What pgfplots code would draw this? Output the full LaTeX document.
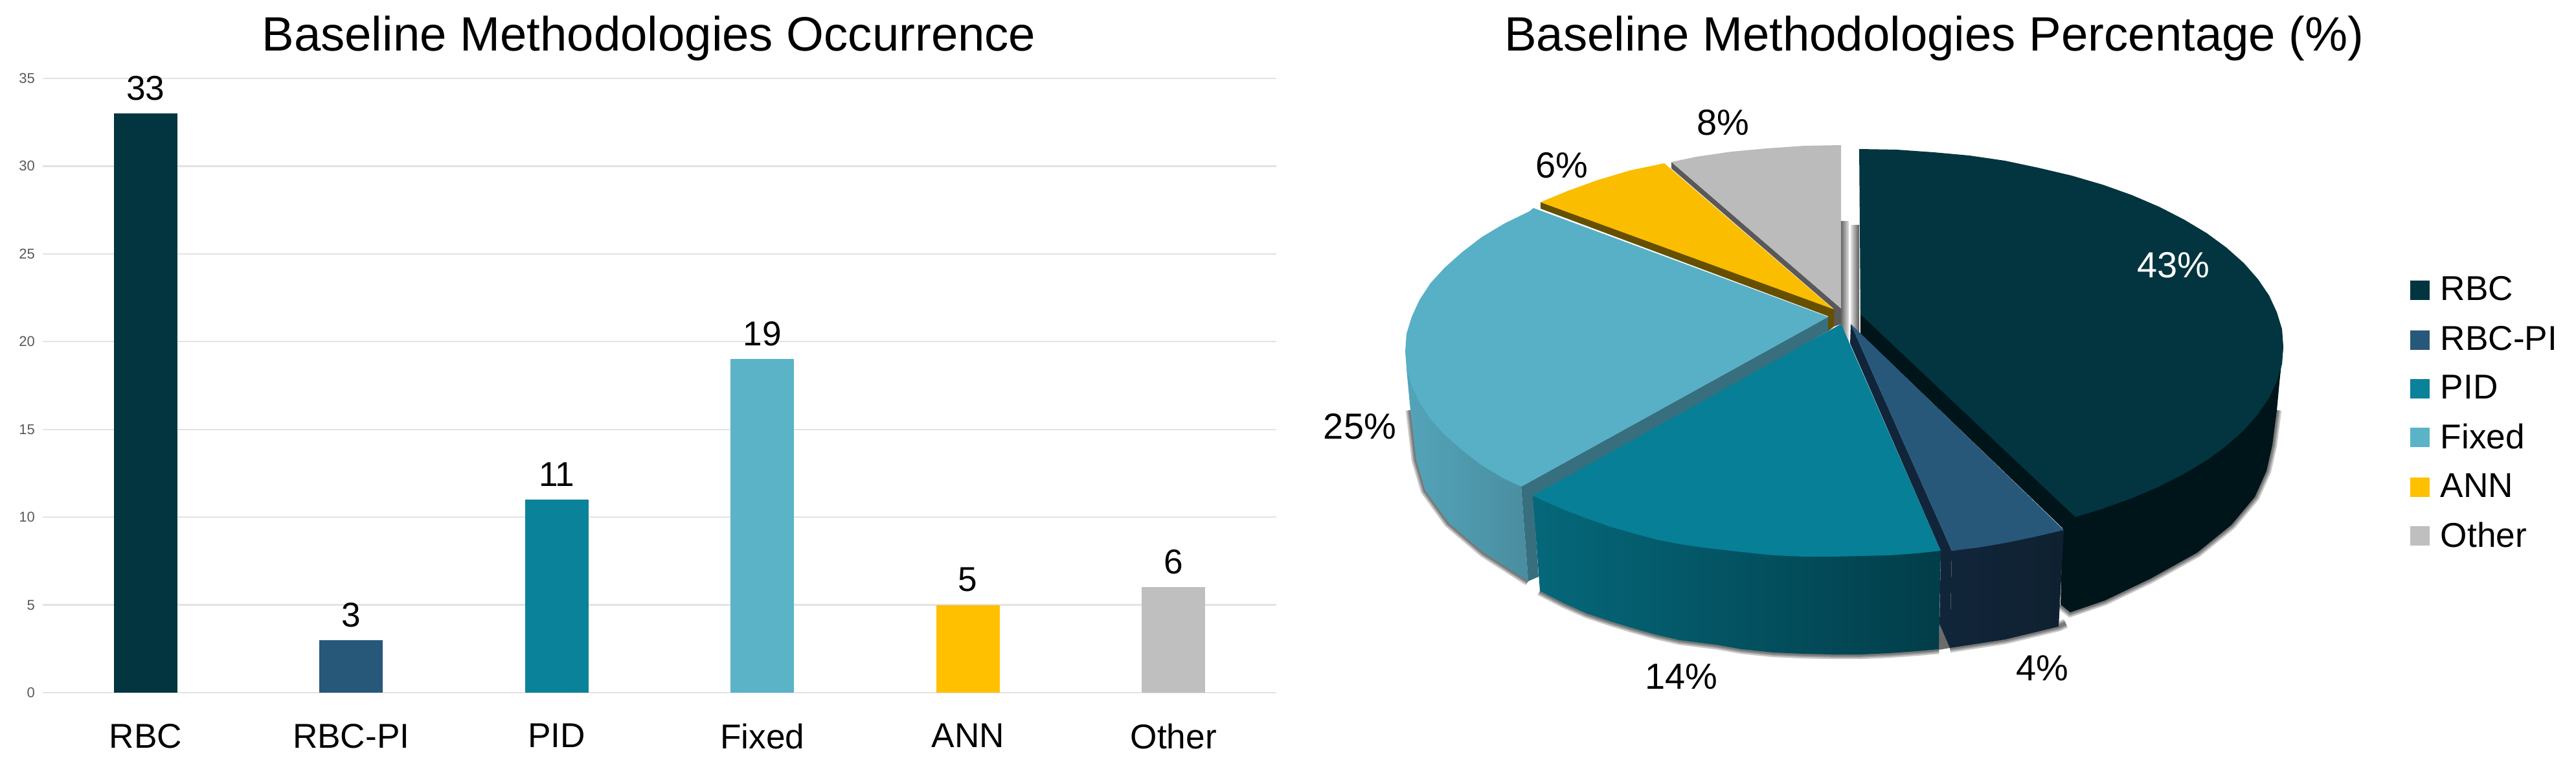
\documentclass[border=0pt]{standalone}
\usepackage{fontspec}
\setmainfont{Liberation Sans}
\usepackage{pgfplots}
\pgfplotsset{compat=1.18}
\usepackage{pgfplotstable}

% series colours
\definecolor{cRBC}{HTML}{02353F}
\definecolor{cRBCside}{HTML}{00151A}
\definecolor{cPI}{HTML}{27587A}
\definecolor{cPIside}{HTML}{11253A}
\definecolor{cPIsideR}{HTML}{0F2130}
\definecolor{cPID}{HTML}{067F97}
\definecolor{cPIDbar}{HTML}{0A8299}
\definecolor{cPIDa}{HTML}{05687A}
\definecolor{cPIDb}{HTML}{044F5C}
\definecolor{cPIDc}{HTML}{023D49}
\definecolor{cFix}{HTML}{57B0C5}
\definecolor{cFixbar}{HTML}{5AB3C7}
\definecolor{cFixcut}{HTML}{386F7E}
\definecolor{cFixa}{HTML}{53A4B9}
\definecolor{cFixb}{HTML}{4A8DA0}
\definecolor{cANN}{HTML}{FBBD00}
\definecolor{cANNbar}{HTML}{FFC000}
\definecolor{cANNcut}{HTML}{665000}
\definecolor{cOth}{HTML}{BBBBBB}
\definecolor{cOthbar}{HTML}{BFBFBF}
\definecolor{cOthcut}{HTML}{595959}

\newcommand{\fsA}{\fontsize{13.3}{15}\selectfont}
\newcommand{\fsT}{\fontsize{18.6}{21}\selectfont}

% lower rims of the pie, in pixels of the picture
\pgfplotstableread{
x y
3516 633
3509 687
3500 727
3482 767
3446 810
3393 853
3321 893
3250 927
3197 945
3182 933
}\rimRBC
\pgfplotstableread{
x y
3011 1000
3096 987
3179 967
3190 962
}\rimPI
\pgfplotstableread{
x y
2378 912
2415 931
2451 947
2487 959
2523 970
2559 980
2594 988
2650 995
2690 1002
2739 1007
2785 1009
2829 1010
2875 1010
2918 1008
2960 1005
2994 1002
}\rimPID
\pgfplotstableread{
x y
2178 633
2187 710
2201 757
2237 807
2291 853
2360 897
}\rimFix

\begin{document}
\begin{tikzpicture}
\path[use as bounding box] (0,0) rectangle (994.5pt,294pt);

% occurrence bars
\begin{axis}[
    at={(16.5pt,26.75pt)}, anchor=south west,
    scale only axis, width=476.25pt, height=237pt,
    xmin=-0.5, xmax=5.5, ymin=0, ymax=35,
    xtick={0,1,2,3,4,5},
    xticklabels={RBC,RBC-PI,PID,Fixed,ANN,Other},
    ytick={0,5,...,35},
    axis line style={draw=none}, tick style={draw=none},
    ymajorgrids, grid style={draw=black!11, line width=0.6pt},
    /pgf/number format/assume math mode=true,
    x tick label style={font=\fsA, yshift=-8.5pt},
    y tick label style={font=\fontsize{5.5}{6}\selectfont, text=black!65, xshift=0.5pt},
    clip=false,
    nodes near coords style={font=\fsA, text=black, yshift=1.5pt},
    every axis plot/.append style={ybar, bar width=24.5pt, bar shift=0pt, draw=none, nodes near coords},
]
\addplot[fill=cRBC] coordinates {(0,33)};
\addplot[fill=cPI] coordinates {(1,3)};
\addplot[fill=cPIDbar] coordinates {(2,11)};
\addplot[fill=cFixbar] coordinates {(3,19)};
\addplot[fill=cANNbar] coordinates {(4,5)};
\addplot[fill=cOthbar] coordinates {(5,6)};
\end{axis}

% whole-picture axis in pixels: titles, 3D pie, legend
\begin{axis}[
    at={(0,0)}, anchor=south west,
    scale only axis, width=994.5pt, height=294pt,
    xmin=0, xmax=3978, ymin=0, ymax=1176, y dir=reverse,
    hide axis, clip=false,
]
% shadow stripes in the gap at the top
\addplot[left color=black!60, right color=black!12, draw=none] coordinates {(2843,342) (2855,342) (2855,530) (2843,530)};
\addplot[left color=black!12, right color=black!65, draw=none] coordinates {(2858,348) (2871,348) (2871,518) (2858,518)};

% soft shadow round the lower rims
\pgfplotsinvokeforeach{3.6pt,2.4pt,1.4pt}{
  \addplot[draw=black, opacity=0.22, line width=#1] table {\rimRBC};
  \addplot[draw=black, opacity=0.22, line width=#1] table {\rimPI};
  \addplot[draw=black, opacity=0.22, line width=#1] table {\rimPID};
  \addplot[draw=black, opacity=0.22, line width=#1] table {\rimFix};
}
\addplot[fill=black!58, draw=none] coordinates {(2995,963) (2993,1003) (3011,1000)};

% RBC
\addplot[fill=cRBCside, draw=none] coordinates {(2873,485) (3526,535) (3520,590) (3516,633) (3509,687) (3500,727) (3482,767) (3446,810) (3393,853) (3321,893) (3250,927) (3197,945) (3182,933) (3185,815) (2873,515)};
\addplot[fill=cRBC, draw=none] coordinates {(2873,485) (2871,230) (2929,231) (2986,235) (3041,240) (3096,248) (3148,259) (3199,271) (3247,285) (3292,301) (3334,319) (3373,339) (3408,360) (3438,382) (3465,406) (3487,431) (3504,456) (3516,482) (3524,508) (3526,535) (3524,562) (3516,588) (3504,614) (3487,639) (3465,664) (3438,688) (3408,710) (3373,731) (3334,751) (3292,769) (3247,785) (3205,798)};

% Other
\addplot[fill=cOthcut, draw=none] coordinates {(2581,250) (2581,260) (2832,477) (2832,504) (2843,500) (2843,476)};
\addplot[fill=cOth, draw=none] coordinates {(2843,476) (2843,224) (2786,225) (2729,229) (2674,234) (2619,242) (2581,250)};

% ANN
\addplot[fill=cANNcut, draw=none] coordinates {(2379,312) (2379,322) (2823,488) (2823,511) (2832,504) (2832,477)};
\addplot[fill=cANN, draw=none] coordinates {(2831,477) (2570,252) (2517,263) (2467,278) (2420,295) (2379,312)};

% Fixed
\addplot[left color=cFixa, right color=cFixb, draw=none] coordinates {(2172,570) (2178,633) (2187,710) (2201,757) (2237,807) (2291,853) (2360,897) (2349,751) (2300,600)};
\addplot[fill=cFixcut, draw=none] coordinates {(2823,489) (2349,751) (2360,897) (2376,890) (2368,770) (2823,511)};
\addplot[fill=cFix, draw=none] coordinates {(2823,489) (2368,321) (2362,326) (2323,345) (2288,366) (2258,389) (2231,413) (2209,437) (2192,463) (2180,489) (2172,515) (2170,542) (2172,569) (2180,595) (2192,621) (2209,647) (2231,671) (2258,695) (2288,718) (2323,739) (2349,751)};

% PID
\addplot[left color=cPIDa, middle color=cPIDb, right color=cPIDc, draw=none] coordinates {(2367,765) (2378,912) (2415,931) (2451,947) (2487,959) (2523,970) (2559,980) (2594,988) (2650,995) (2690,1002) (2739,1007) (2785,1009) (2829,1010) (2875,1010) (2918,1008) (2960,1005) (2994,1002) (2997,850) (2800,800)};
\addplot[fill=cPID, draw=none] coordinates {(2843,500) (2367,765) (2390,776) (2416,787) (2450,800) (2487,813) (2522,823) (2559,833) (2595,840) (2630,845) (2690,852) (2739,857) (2785,859) (2829,859) (2875,858) (2918,857) (2960,854) (2997,850)};

% RBC-PI
\addplot[fill=cPIside, draw=none] coordinates {(2858,500) (2857,530) (2997,850) (2995,963) (3011,1000) (3014,850)};
\addplot[left color=cPIside, right color=cPIsideR, draw=none] coordinates {(3014,850) (3011,1000) (3096,987) (3179,967) (3187,818)};
\addplot[fill=cPI, draw=none] coordinates {(2858,500) (3014,850) (3055,845) (3096,838) (3140,829) (3187,818)};

% legend squares
\addplot[only marks, mark=square*, mark size=3.5pt, color=cRBC] coordinates {(3737,448)};
\addplot[only marks, mark=square*, mark size=3.5pt, color=cPI] coordinates {(3737,525)};
\addplot[only marks, mark=square*, mark size=3.5pt, color=cPIDbar] coordinates {(3737,600)};
\addplot[only marks, mark=square*, mark size=3.5pt, color=cFixbar] coordinates {(3737,675)};
\addplot[only marks, mark=square*, mark size=3.5pt, color=cANNbar] coordinates {(3737,752)};
\addplot[only marks, mark=square*, mark size=3.5pt, color=cOthbar] coordinates {(3737,827)};

\node[anchor=west, inner sep=0pt, font=\fsA] at (axis cs:3768,445) {RBC};
\node[anchor=west, inner sep=0pt, font=\fsA] at (axis cs:3768,522) {RBC-PI};
\node[anchor=west, inner sep=0pt, font=\fsA] at (axis cs:3768,597) {PID};
\node[anchor=west, inner sep=0pt, font=\fsA] at (axis cs:3768,673) {Fixed};
\node[anchor=west, inner sep=0pt, font=\fsA] at (axis cs:3768,749) {ANN};
\node[anchor=west, inner sep=0pt, font=\fsA] at (axis cs:3768,825) {Other};

% slice labels
\node[font=\fontsize{14}{16}\selectfont, text=white] at (axis cs:3356,409) {43\%};
\node[font=\fontsize{14}{16}\selectfont] at (axis cs:3154,1031) {4\%};
\node[font=\fontsize{14}{16}\selectfont] at (axis cs:2596,1044) {14\%};
\node[font=\fontsize{14}{16}\selectfont] at (axis cs:2100,658) {25\%};
\node[font=\fontsize{14}{16}\selectfont] at (axis cs:2412,255) {6\%};
\node[font=\fontsize{14}{16}\selectfont] at (axis cs:2661,189) {8\%};

% titles
\node[anchor=base, inner sep=0pt, font=\fsT] at (axis cs:1002,79) {Baseline Methodologies Occurrence};
\node[anchor=base, inner sep=0pt, font=\fsT] at (axis cs:2987,79) {Baseline Methodologies Percentage (\%)};
\end{axis}
\end{tikzpicture}
\end{document}
